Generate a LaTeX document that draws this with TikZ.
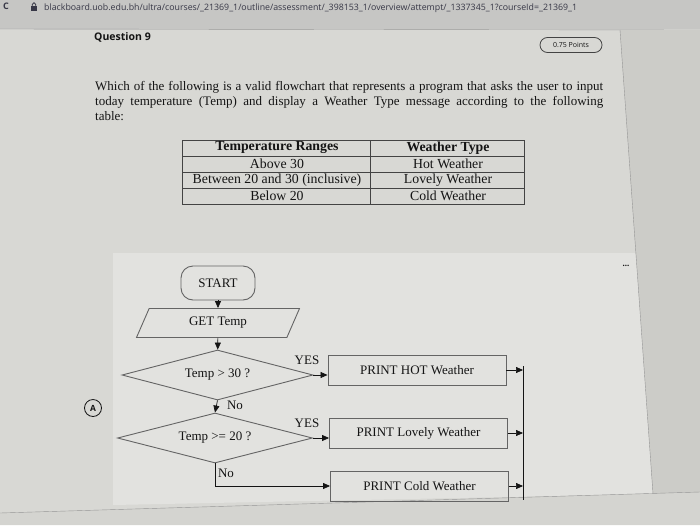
\documentclass[tikz,border=0pt]{standalone}
\usepackage{fontspec}
\setmainfont{Liberation Serif}
\newfontfamily\uisans{Open Sans}
\usetikzlibrary{shapes.geometric,arrows.meta}
\definecolor{pagebg}{RGB}{216,216,212}
\definecolor{barbg}{RGB}{198,198,196}
\definecolor{sidebg}{RGB}{204,204,200}
\definecolor{panelbg}{RGB}{226,226,223}
\definecolor{bottombg}{RGB}{212,212,208}
\definecolor{ink}{RGB}{20,20,20}
\definecolor{shapegray}{RGB}{100,100,100}
\definecolor{linegray}{RGB}{150,150,150}
\definecolor{urlcol}{RGB}{55,55,70}
\begin{document}
\begin{tikzpicture}[x=1pt,y=-1pt,
  shp/.style={draw=shapegray, line width=0.9pt, text=ink, font=\fontsize{13}{15}\selectfont},
  conn/.style={draw=ink, line width=0.7pt},
  arr/.style={conn, -{Triangle[length=7pt,width=6pt]}},
  lbl/.style={text=ink, inner sep=1pt, font=\fontsize{13}{15}\selectfont},
  qtext/.style={anchor=west, text=ink, inner sep=0pt, font=\fontsize{13}{15}\selectfont},
  cell/.style={text=ink, inner sep=0pt, font=\fontsize{13.8}{15}\selectfont},
  pbox/.style={shp, rectangle, minimum width=178pt, minimum height=30pt},
  dia/.style={shp, diamond, aspect=3.8, inner sep=0pt, minimum height=50pt}]
\useasboundingbox (0,0) rectangle (700,525);
% background (photo of a screen)
\fill[pagebg] (0,0) rectangle (700,525);
\fill[barbg] (0,0) rectangle (700,29);
\draw[linegray] (0,29) -- (700,30);
\fill[panelbg] (113,253) -- (637,253) -- (653,494) -- (113,505) -- cycle;
\fill[sidebg] (620,30) -- (700,30) -- (700,492) -- (653,494) -- cycle;
\draw[linegray] (620,30) -- (653,494);
\fill[bottombg] (0,513) -- (700,492) -- (700,525) -- (0,525) -- cycle;
\draw[linegray] (0,513) -- (700,492);
% browser bar
\node[text=urlcol, font=\uisans\bfseries\fontsize{9}{10}\selectfont] (reload) at (6,6) {C};
\fill[urlcol] (31,6) rectangle (37,11);
\draw[urlcol, line width=0.8pt] (32.3,6) -- (32.3,4.5) .. controls (32.3,2) and (35.7,2) .. (35.7,4.5) -- (35.7,6);
\node[anchor=west, text=urlcol, inner sep=0pt, font=\uisans\fontsize{8.8}{10}\selectfont] (url) at (44,8)
  {blackboard.uob.edu.bh/ultra/courses/\_21369\_1/outline/assessment/\_398153\_1/overview/attempt/\_1337345\_1?courseId=\_21369\_1};
% question header
\node[anchor=west, text=ink, inner sep=0pt, font=\uisans\bfseries\fontsize{10.5}{12}\selectfont] (qnum) at (94,37) {Question 9};
\node[draw=ink!80, line width=0.8pt, rounded corners=7.5pt, minimum width=62pt, minimum height=15pt, inner sep=0pt,
  text=ink, font=\uisans\fontsize{7}{8}\selectfont] (pts) at (571,45) {0.75 Points};
% question text
\node[qtext] (l1) at (95,87) {\makebox[508pt][s]{Which of the following is a valid flowchart that represents a program that asks the user to input}};
\node[qtext] (l2) at (95,102) {\makebox[508pt][s]{today temperature (Temp) and display a Weather Type message according to the following}};
\node[qtext] (l3) at (95,116) {table:};
% table
\draw[ink!80, line width=0.8pt] (182,140) rectangle (524,204);
\draw[ink!80, line width=0.6pt] (182,156) -- (524,156) (182,172) -- (524,172) (182,188) -- (524,188) (370,140) -- (370,204);
\node[cell, font=\bfseries\fontsize{13.8}{15}\selectfont] (h1) at (277,148) {Temperature Ranges};
\node[cell, font=\bfseries\fontsize{13.8}{15}\selectfont] (h2) at (448,148) {Weather Type};
\node[cell] (r1a) at (277,164) {Above 30};
\node[cell] (r1b) at (448,164) {Hot Weather};
\node[cell] (r2a) at (277,180) {Between 20 and 30 (inclusive)};
\node[cell] (r2b) at (448,180) {Lovely Weather};
\node[cell] (r3a) at (277,196) {Below 20};
\node[cell] (r3b) at (448,196) {Cold Weather};
% more menu
\node[text=ink, inner sep=0pt, font=\bfseries\fontsize{9}{10}\selectfont] (more) at (626,266) {...};
% option label
\node[draw=ink, circle, line width=0.8pt, minimum size=17pt, inner sep=0pt, text=ink,
  font=\uisans\bfseries\fontsize{8.5}{9}\selectfont] (optA) at (93,408) {A};
% flowchart
\node[shp, rounded corners=12pt, minimum width=74pt, minimum height=34pt] (start) at (218,283) {START};
\node[shp, trapezium, trapezium left angle=42, trapezium right angle=138, trapezium stretches body,
  minimum width=163pt, minimum height=29pt, inner sep=0pt] (get) at (218,323) {GET Temp};
\node[dia, minimum width=191pt] (d1) at (217.5,375) {Temp > 30 ?};
\node[dia, minimum width=195pt] (d2) at (215,438) {Temp >= 20 ?};
\node[pbox] (hot) at (417,370) {PRINT HOT Weather};
\node[pbox] (lovely) at (418.5,433) {PRINT Lovely Weather};
\node[pbox] (cold) at (419.5,486) {PRINT Cold Weather};
\coordinate (ctop) at (523,366);
\coordinate (cbot) at (523,500);
\draw[arr] (start) -- (get);
\draw[arr] (get) -- (d1);
\draw[arr] (d1.east) -- (d1.east -| hot.west);
\draw[arr] (d1.south) -- (d2.north);
\draw[arr] (d2.east) -- (d2.east -| lovely.west);
\draw[arr] (d2.south) |- (cold.west);
\draw[conn] (ctop) -- (cbot);
\draw[arr] (hot.east) -- (hot.east -| ctop);
\draw[arr] (lovely.east) -- (lovely.east -| ctop);
\draw[arr] (cold.east) -- (cold.east -| ctop);
\node[lbl] (yes1) at (307,360) {YES};
\node[lbl] (yes2) at (307,423) {YES};
\node[lbl] (no1) at (235,405) {No};
\node[lbl] (no2) at (226,473) {No};
\end{tikzpicture}
\end{document}
